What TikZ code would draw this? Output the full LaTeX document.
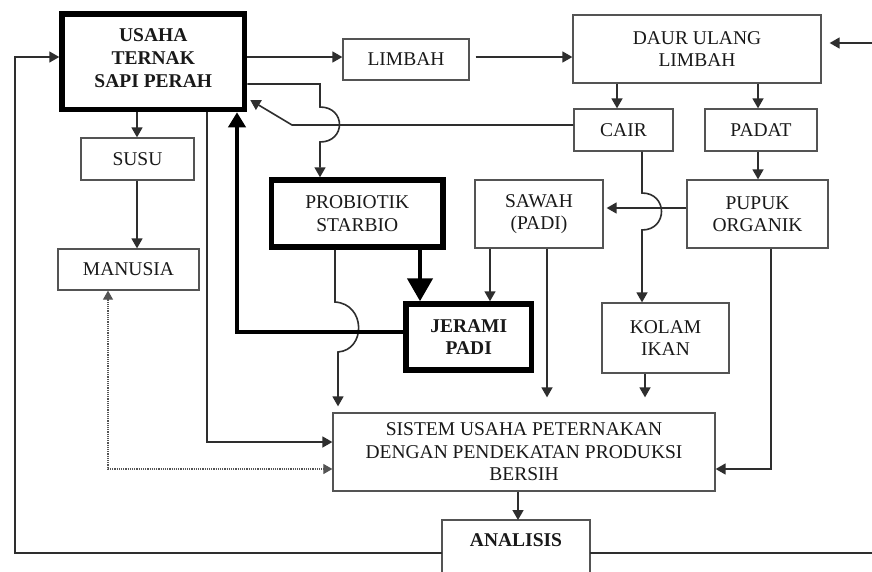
\documentclass[tikz,border=0pt]{standalone}
\usepackage{fontspec}
\setmainfont{Liberation Serif}
\usetikzlibrary{arrows.meta}
\definecolor{linegray}{gray}{0.18}
\definecolor{boxgray}{gray}{0.33}
\definecolor{inkgray}{gray}{0.1}

% \mkbox{style}{x1}{y1}{x2}{y2}{name}{text}: box given by its border corners
\newcommand\mkbox[7]{%
  \node[#1, minimum width={(#4-#2)*1pt}, minimum height={(#5-#3)*1pt}]
    (#6) at ({(#2+#4)/2},{(#3+#5)/2}) {#7};}

\begin{document}
\begin{tikzpicture}[x=1pt,y=-1pt,
  box/.style={draw=boxgray, line width=1.3pt, fill=white, align=center,
    inner sep=0pt, text=inkgray, font=\fontsize{19.5}{22.5}\selectfont},
  heavybox/.style={box, draw=black, line width=5.5pt},
  tip/.style={-{Triangle[length=10pt,width=11pt]}},
  arr/.style={draw=linegray, line width=1.6pt, tip},
  heavyarr/.style={draw=black, line width=4.5pt},
  dotarr/.style={draw=boxgray, line width=1.2pt, densely dotted,
    {Triangle[length=9pt,width=10pt]}-{Triangle[length=9pt,width=10pt]}},
  plain/.style={draw=linegray, line width=1.6pt}]

\useasboundingbox (0,0) rectangle (872,571);
\fill[white] (0,0) rectangle (872,571);
\clip (0,0) rectangle (872,571);

% boxes
\mkbox{heavybox, font=\fontsize{19.5}{23}\selectfont\bfseries}{62}{14}{244.5}{109.5}{usaha}{USAHA\\TERNAK\\SAPI PERAH\\[-15pt]}
\mkbox{box}{343}{39}{469}{80}{limbah}{LIMBAH}
\mkbox{box}{573}{15}{821}{83}{daur}{DAUR ULANG\\LIMBAH}
\mkbox{box}{574}{109}{673}{151}{cair}{CAIR}
\mkbox{box}{705}{109}{817}{151}{padat}{PADAT}
\mkbox{box}{687}{180}{828}{248}{pupuk}{PUPUK\\ORGANIK}
\mkbox{box}{475}{180}{603}{248}{sawah}{SAWAH\\(PADI)}
\mkbox{heavybox}{271.5}{180}{443}{247}{probiotik}{PROBIOTIK\\STARBIO}
\mkbox{heavybox, font=\fontsize{19.5}{22.5}\selectfont\bfseries}{406}{304}{531.5}{370}{jerami}{JERAMI\\PADI}
\mkbox{box}{81}{138}{194}{180}{susu}{SUSU}
\mkbox{box}{58}{249}{199}{290}{manusia}{MANUSIA}
\mkbox{box}{602}{303}{729}{373}{kolam}{KOLAM\\IKAN}
\mkbox{box}{333}{413}{715}{491}{sistem}{SISTEM USAHA PETERNAKAN\\DENGAN PENDEKATAN PRODUKSI\\BERSIH}
\node[box, draw=none, fill=none, font=\fontsize{19.5}{22.5}\selectfont\bfseries] (analisislabel) at (516,540) {ANALISIS};
\draw[draw=boxgray, line width=1.3pt] (442,600) -- (442,520) -- (590,520) -- (590,600);
\coordinate (analisisW) at (442,553);
\coordinate (analisisE) at (590,553);
\coordinate (analisisN) at (518,520);

% flow of waste
\draw[arr] (usaha.east |- 0,57) -- (limbah.west |- 0,57);
\draw[arr, shorten <=6pt] (limbah.east |- 0,57) -- (daur.west |- 0,57);
\draw[arr] (617,0 |- daur.south) -- (617,0 |- cair.north);
\draw[arr] (758,0 |- daur.south) -- (758,0 |- padat.north);
\draw[arr] (758,0 |- padat.south) -- (758,0 |- pupuk.north);
\draw[arr, shorten >=3pt] (pupuk.west |- 0,208) -- (sawah.east |- 0,208);

% liquid waste to the fish pond, hopping over the fertiliser line
\draw[arr] (642,0 |- cair.south) -- (642,193)
  .. controls (668,193) and (668,230) .. (642,230) -- (642,0 |- kolam.north);
\draw[arr, shorten >=15pt] (645,0 |- kolam.south) -- (645,0 |- sistem.north);

% rice field
\draw[arr] (490,0 |- sawah.south) -- (490,0 |- jerami.north);
\draw[arr, shorten >=15pt] (547,0 |- sawah.south) -- (547,0 |- sistem.north);

% probiotic
\draw[heavyarr, -{Triangle[length=23pt,width=25pt]}] (420,0 |- probiotik.south) -- (420,0 |- jerami.north);
\draw[arr, shorten >=6pt] (335,0 |- probiotik.south) -- (335,302)
  .. controls (366,304) and (366,350) .. (338,352) -- (338,0 |- sistem.north);

% dairy farm outputs
\draw[arr] (usaha.east |- 0,84) -- (320,84) -- (320,107)
  .. controls (346,107) and (346,142) .. (320,142) -- (320,0 |- probiotik.north);
\draw[arr] (cair.west |- 0,125) -- (292,125) -- ([xshift=3pt]usaha.east |- 0,100);
\draw[heavyarr, -{Triangle[length=15pt,width=17pt]}] (jerami.west |- 0,332) -- (237,332) -- (237,0 |- usaha.south);
\draw[plain, tip] (207,0 |- usaha.south) -- (207,442) -- (sistem.west |- 0,442);
\draw[arr] (137,0 |- usaha.south) -- (137,0 |- susu.north);
\draw[arr] (137,0 |- susu.south) -- (137,0 |- manusia.north);
\draw[dotarr] (108,0 |- manusia.south) -- (108,469) -- (sistem.west |- 0,469);
\draw[arr] (771,0 |- pupuk.south) -- (771,469) -- (sistem.east |- 0,469);

% analysis and feedback
\draw[arr] (518,0 |- sistem.south) -- (analisisN);
\draw[arr] (analisisW) -- (15,553) -- (15,57) -- (usaha.west |- 0,57);
\draw[arr, shorten >=8pt] (analisisE) -- (890,553) -- (890,43) -- (daur.east |- 0,43);
\end{tikzpicture}
\end{document}
